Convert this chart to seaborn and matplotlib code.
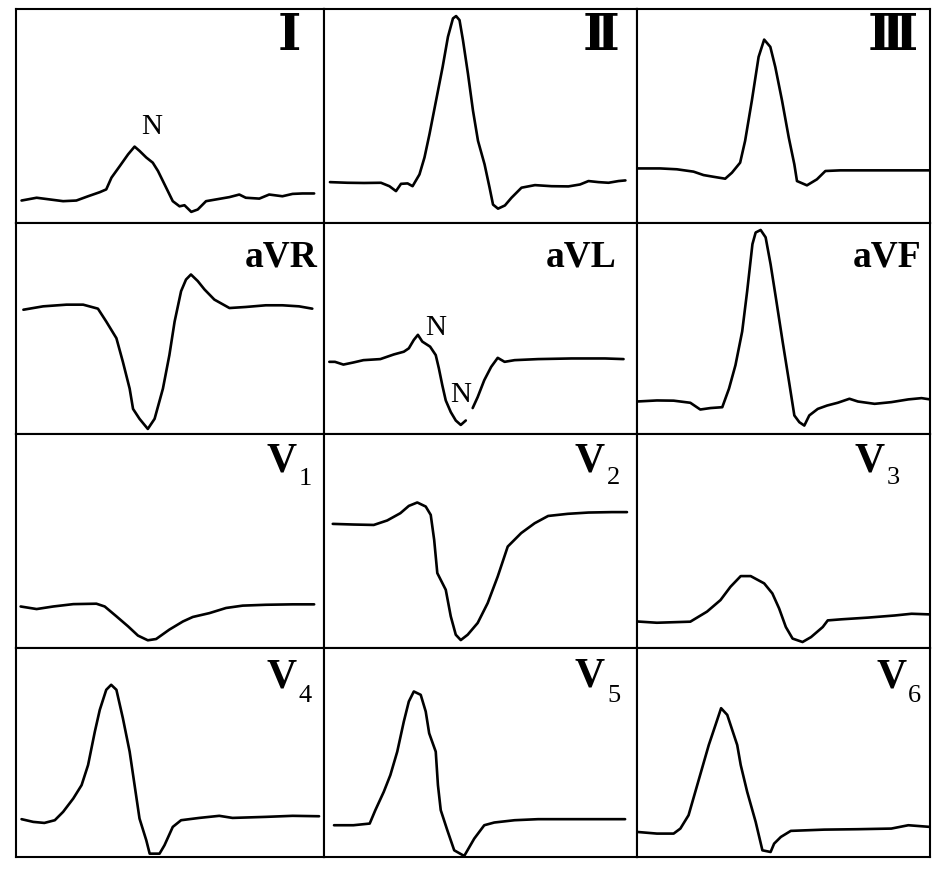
import matplotlib
matplotlib.use('Agg')
import matplotlib.pyplot as plt
import seaborn as sns
import pandas as pd

# traces: x = % of panel width, y = % of panel height (0 = bottom)
lead_I = [(1.8, 10.5), (6.7, 11.8), (11.0, 11.0), (15.3, 10.2), (19.6, 10.5), (23.4, 12.5),
          (27.2, 14.4), (29.3, 15.7), (31.0, 21.2), (33.7, 26.6), (36.4, 32.1), (38.5, 35.7),
          (40.1, 33.7), (42.3, 30.6), (44.4, 28.2), (46.1, 24.3), (47.7, 19.6), (49.3, 14.9),
          (50.9, 10.2), (53.1, 7.8), (54.7, 8.3), (56.9, 5.2), (59.0, 6.3), (61.7, 10.2),
          (64.9, 11.0), (69.3, 12.1), (72.5, 13.3), (74.6, 11.8), (79.0, 11.4), (82.2, 13.3),
          (86.5, 12.5), (89.8, 13.6), (93.0, 13.8), (96.8, 13.8)]
lead_II = [(1.9, 19.1), (7.5, 18.8), (12.8, 18.7), (18.2, 18.8), (20.9, 17.2), (23.0, 14.9),
           (24.6, 18.3), (26.7, 18.5), (28.3, 17.2), (30.5, 22.7), (32.1, 30.6), (33.7, 41.5),
           (35.8, 57.2), (37.9, 72.9), (39.6, 87.0), (41.2, 95.6), (42.2, 96.7), (43.3, 94.8),
           (44.4, 85.4), (46.0, 69.7), (47.6, 52.5), (49.2, 38.4), (51.3, 27.4), (52.9, 16.5),
           (54.0, 8.6), (55.6, 6.7), (57.8, 8.2), (59.9, 11.8), (63.1, 16.5), (67.4, 17.7),
           (72.7, 17.2), (78.1, 17.1), (81.8, 18.0), (84.5, 19.6), (87.7, 19.1), (90.9, 18.8),
           (94.1, 19.6), (96.3, 19.9)]
lead_III = [(0.0, 25.5), (7.9, 25.5), (13.6, 25.1), (19.3, 24.0), (22.7, 22.4), (26.1, 21.6),
            (30.1, 20.7), (32.4, 23.5), (35.2, 28.2), (36.9, 38.4), (39.2, 57.2), (41.5, 77.6),
            (43.4, 85.7), (45.5, 82.3), (47.2, 72.9), (49.5, 57.2), (51.8, 39.9), (53.7, 27.4),
            (54.6, 19.6), (58.0, 17.6), (61.4, 20.4), (64.3, 24.3), (69.4, 24.6), (80.9, 24.6),
            (100.0, 24.6)]
lead_aVR = [(2.4, 58.9), (8.8, 60.5), (16.4, 61.3), (21.8, 61.3), (26.6, 59.4), (29.3, 53.3),
            (32.6, 45.4), (34.7, 34.2), (36.9, 21.5), (38.0, 11.9), (40.1, 7.2), (42.8, 2.4),
            (45.0, 7.2), (47.7, 21.5), (49.8, 37.4), (51.5, 53.3), (53.6, 67.7), (55.2, 73.2),
            (56.8, 75.6), (59.0, 72.5), (61.2, 68.5), (64.4, 63.7), (69.3, 59.7), (74.6, 60.2),
            (81.1, 61.0), (86.5, 61.0), (91.9, 60.5), (96.2, 59.4)]
lead_aVL_a = [(1.7, 34.2), (3.5, 34.2), (6.2, 32.9), (9.4, 33.9), (12.6, 35.0), (18.0, 35.5),
              (22.3, 37.7), (25.5, 39.0), (27.1, 40.6), (28.7, 44.6), (30.0, 47.0), (31.4, 43.8),
              (33.9, 41.4), (35.7, 37.4), (36.7, 31.1), (37.8, 23.1), (38.9, 15.9), (40.5, 10.4),
              (42.1, 6.4), (43.7, 4.3), (45.3, 6.4)]
lead_aVL_b = [(47.5, 12.3), (49.1, 17.5), (51.2, 25.5), (53.4, 31.8), (55.5, 36.1), (57.7, 34.2),
              (60.9, 35.0), (68.4, 35.5), (79.1, 35.8), (89.8, 35.8), (95.7, 35.5)]
lead_aVF = [(0.0, 15.4), (6.8, 15.9), (12.5, 15.8), (18.2, 14.8), (21.6, 11.6), (25.1, 12.3),
            (29.1, 12.7), (31.4, 21.5), (33.6, 32.6), (35.9, 48.6), (37.6, 67.7), (39.4, 90.0),
            (40.5, 95.5), (42.2, 96.7), (43.9, 93.2), (45.6, 80.4), (47.4, 64.5), (49.7, 43.8),
            (51.9, 24.7), (53.7, 8.8), (55.4, 5.6), (57.1, 4.0), (58.8, 8.8), (61.7, 11.9),
            (64.9, 13.5), (68.5, 14.8), (72.5, 16.7), (75.4, 15.4), (81.1, 14.3), (86.8, 15.1),
            (92.6, 16.4), (97.1, 17.0), (100.0, 16.4)]
lead_V1 = [(1.5, 19.4), (6.7, 18.2), (12.1, 19.4), (18.6, 20.5), (26.1, 20.7), (28.8, 19.4),
           (32.6, 14.8), (36.4, 10.1), (39.6, 5.8), (42.8, 3.6), (45.5, 4.2), (49.8, 8.6),
           (54.2, 12.4), (57.4, 14.5), (62.8, 16.3), (68.2, 18.7), (73.6, 19.8), (81.1, 20.2),
           (89.8, 20.4), (96.8, 20.4)]
lead_V2 = [(2.8, 58.0), (9.4, 57.7), (15.9, 57.5), (20.2, 59.6), (24.4, 63.0), (27.1, 66.4),
           (29.8, 68.0), (32.5, 66.1), (34.1, 62.2), (35.2, 50.5), (36.2, 35.0), (38.9, 27.2),
           (40.5, 14.8), (42.1, 6.2), (43.7, 3.7), (45.9, 6.2), (49.1, 11.7), (52.3, 21.0),
           (55.5, 33.4), (58.7, 47.4), (63.0, 53.7), (67.3, 58.3), (71.6, 61.7), (77.9, 62.7),
           (84.5, 63.3), (92.0, 63.5), (96.8, 63.5)]
lead_V3 = [(0.0, 12.4), (6.8, 11.8), (18.2, 12.3), (23.9, 17.0), (28.5, 22.4), (31.9, 28.6),
           (35.4, 33.6), (38.8, 33.6), (43.4, 30.2), (46.2, 25.5), (48.5, 18.5), (50.8, 9.8),
           (53.1, 4.4), (56.5, 2.8), (59.4, 5.1), (63.4, 9.8), (65.1, 12.9), (69.7, 13.4),
           (78.8, 14.2), (88.0, 15.2), (93.7, 16.0), (100.0, 15.7)]
lead_V4 = [(1.8, 18.1), (5.6, 16.8), (9.2, 16.3), (12.6, 17.6), (15.3, 21.6), (18.6, 28.0),
           (21.3, 34.4), (23.4, 44.0), (25.6, 60.0), (27.2, 70.4), (29.3, 80.0), (30.9, 82.4),
           (32.6, 80.0), (34.7, 66.4), (36.9, 50.4), (38.5, 34.4), (40.1, 18.4), (42.3, 8.0),
           (43.4, 1.6), (46.6, 1.6), (48.2, 5.6), (50.9, 14.4), (53.6, 17.6), (59.5, 18.7),
           (66.0, 19.7), (70.3, 18.7), (81.1, 19.2), (89.8, 19.7), (98.4, 19.5)]
lead_V5 = [(3.2, 15.2), (9.4, 15.2), (14.6, 16.0), (16.4, 22.4), (19.1, 31.2), (21.2, 39.2),
           (23.4, 50.4), (25.5, 64.8), (27.1, 74.4), (28.7, 79.2), (30.9, 77.6), (32.5, 69.6),
           (33.6, 59.2), (35.7, 50.4), (36.4, 34.4), (37.3, 22.4), (39.4, 12.8), (41.6, 3.2),
           (44.8, 0.5), (48.0, 8.8), (51.2, 15.2), (54.4, 16.5), (60.9, 17.6), (68.4, 18.1),
           (84.5, 18.1), (96.2, 18.1)]
lead_V6 = [(0.0, 12.0), (6.8, 11.2), (12.5, 11.2), (14.8, 13.6), (17.6, 20.0), (19.9, 31.2),
           (22.2, 42.4), (24.5, 53.6), (26.8, 63.2), (28.7, 71.2), (30.8, 68.0), (34.2, 53.6),
           (35.4, 44.0), (37.6, 31.2), (40.5, 16.8), (42.8, 3.2), (45.6, 2.4), (46.8, 6.4),
           (49.1, 9.6), (52.5, 12.5), (63.9, 13.1), (75.4, 13.3), (86.8, 13.6), (92.6, 15.2),
           (100.0, 14.4)]

lead_names = ['I', 'II', 'III', 'aVR', 'aVL', 'aVF', 'V1', 'V2', 'V3', 'V4', 'V5', 'V6']
traces = {
    'I': [lead_I], 'II': [lead_II], 'III': [lead_III],
    'aVR': [lead_aVR], 'aVL': [lead_aVL_a, lead_aVL_b], 'aVF': [lead_aVF],
    'V1': [lead_V1], 'V2': [lead_V2], 'V3': [lead_V3],
    'V4': [lead_V4], 'V5': [lead_V5], 'V6': [lead_V6],
}
# "N" marks: lead, x, y
n_marks = [('I', 43.9, 44.7), ('aVL', 35.7, 50.2), ('aVL', 43.7, 18.3)]

rows = []
for lead, segs in traces.items():
    for k, seg in enumerate(segs):
        for x, y in seg:
            rows.append({'lead': lead, 'seg': k, 'x': x, 'y': y})
df = pd.DataFrame(rows)

sns.set_style('white')
plt.rcParams['font.family'] = ['Liberation Serif', 'DejaVu Serif', 'DejaVu Sans']
plt.rcParams['text.color'] = 'black'

W, H = 941, 871
col_edges = [16, 324, 637, 930]
row_edges = [9, 223, 434, 648, 857]

fig = plt.figure(figsize=(W / 100, H / 100), dpi=100)

# label placement (axes fraction): right edge, baseline
roman = {'I': ('\u2160', 0.924, 0.81), 'II': ('\u2161', 0.944, 0.807), 'III': ('\u2162', 0.957, 0.81)}
aug = {'aVR': (0.978, 0.793), 'aVL': (0.936, 0.796), 'aVF': (0.969, 0.796)}
vlab = {'V1': (0.912, 0.824, 0.760), 'V2': (0.898, 0.824, 0.765), 'V3': (0.846, 0.824, 0.765),
        'V4': (0.912, 0.811, 0.740), 'V5': (0.898, 0.816, 0.742), 'V6': (0.920, 0.811, 0.742)}

for i, lead in enumerate(lead_names):
    r, c = divmod(i, 3)
    x0, x1 = col_edges[c], col_edges[c + 1]
    y0, y1 = row_edges[r], row_edges[r + 1]
    ax = fig.add_axes([x0 / W, 1 - y1 / H, (x1 - x0) / W, (y1 - y0) / H])
    sub = df[df['lead'] == lead]
    sns.lineplot(data=sub, x='x', y='y', units='seg', estimator=None, sort=False,
                 color='black', linewidth=1.9, ax=ax)
    ax.set_xlim(0, 100)
    ax.set_ylim(0, 100)
    ax.set_xticks([])
    ax.set_yticks([])
    ax.set_xlabel('')
    ax.set_ylabel('')
    for s in ax.spines.values():
        s.set_visible(True)
        s.set_color('black')
        s.set_linewidth(1.5)

    if lead in roman:
        txt, tx, ty = roman[lead]
        ax.text(tx, ty, txt, transform=ax.transAxes, ha='right', va='baseline',
                fontsize=36, fontweight='bold', color='black')
    elif lead in aug:
        tx, ty = aug[lead]
        ax.text(tx, ty, lead, transform=ax.transAxes, ha='right', va='baseline',
                fontsize=27, fontweight='bold', color='black')
    else:
        tx, ty, dy = vlab[lead]
        ax.text(tx, ty, 'V', transform=ax.transAxes, ha='right', va='baseline',
                fontsize=30, fontweight='bold', color='black')
        ax.text(tx + 0.006, dy, lead[1], transform=ax.transAxes, ha='left', va='baseline',
                fontsize=19, color='black')

    for ml, mx, my in n_marks:
        if ml == lead:
            ax.text(mx, my, 'N', ha='center', va='center', fontsize=21, color='black')

fig.savefig('out.png', dpi=100, facecolor='white')
